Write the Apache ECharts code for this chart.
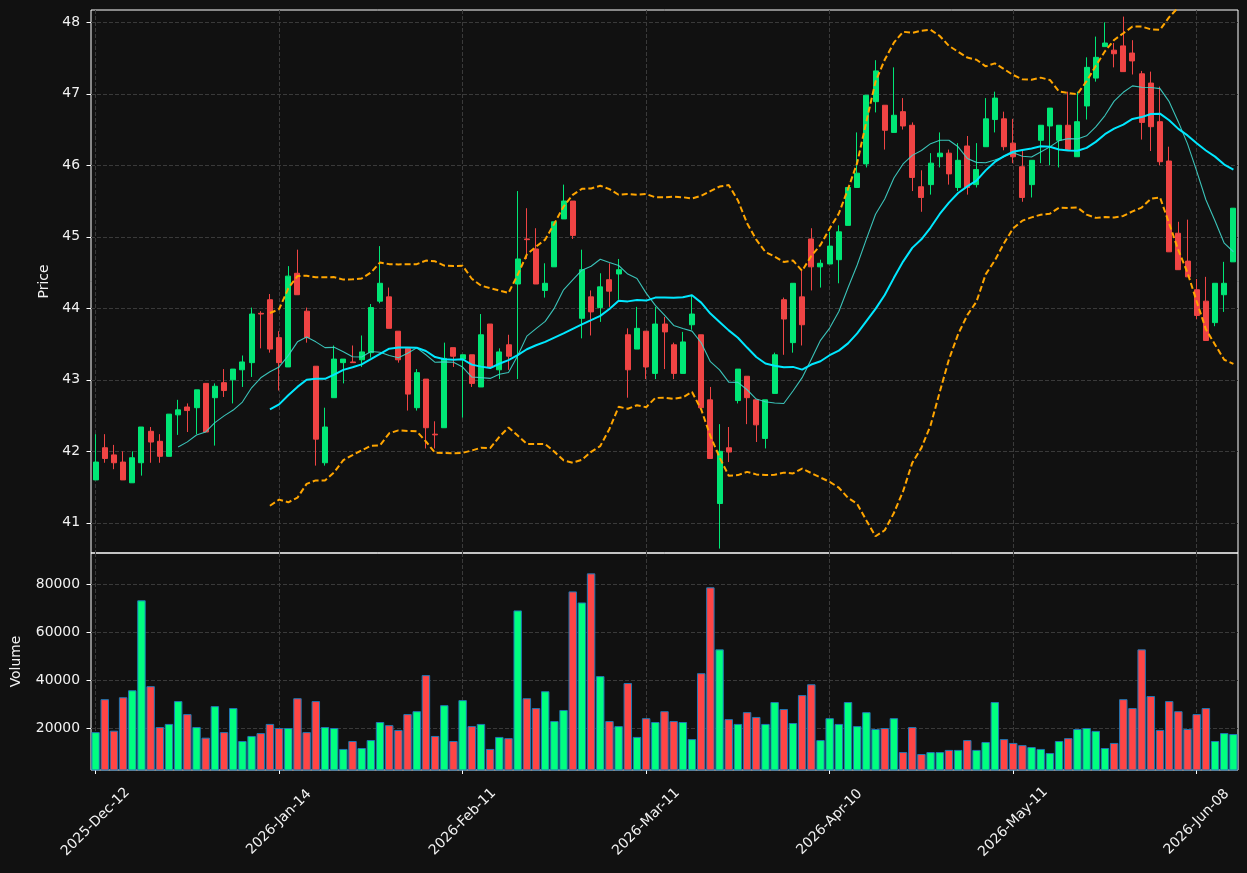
<!DOCTYPE html>
<html>
<head>
<meta charset="utf-8">
<script src="https://cdn.jsdelivr.net/npm/echarts@6.0.0/dist/echarts.min.js"></script>
<style>
  html, body { margin: 0; padding: 0; background: #111111; }
  #chart { width: 1247px; height: 873px; }
</style>
</head>
<body>
<div id="chart"></div>
<script>
// ── data (125 daily bars) ─────────────────────────────────────────────────
const tickIdx = [0, 20, 40, 60, 80, 100, 120];
const tickLabels = ['2025-Dec-12', '2026-Jan-14', '2026-Feb-11', '2026-Mar-11', '2026-Apr-10', '2026-May-11', '2026-Jun-08'];

const opens = [
  41.60, 42.05, 41.95, 41.85, 41.56, 41.84, 42.28, 42.14, 41.93, 42.51,
  42.62, 42.61, 42.95, 42.75, 42.96, 43.00, 43.14, 43.24, 43.93, 44.12,
  43.59, 43.18, 44.49, 43.96, 43.19, 41.84, 42.75, 43.24, 43.25, 43.28,
  43.38, 44.10, 44.16, 43.68, 43.44, 42.61, 43.01, 42.24, 42.33, 43.45,
  43.29, 43.35, 42.90, 43.78, 43.14, 43.49, 44.34, 44.97, 44.83, 44.25,
  44.58, 45.25, 45.50, 43.86, 44.16, 44.01, 44.40, 44.48, 43.63, 43.43,
  43.68, 43.09, 43.78, 43.49, 43.09, 43.77, 43.63, 42.72, 41.27, 42.05,
  42.71, 43.05, 42.72, 42.18, 42.81, 44.12, 43.52, 44.16, 44.97, 44.58,
  44.62, 44.68, 45.16, 45.69, 46.02, 46.89, 46.84, 46.46, 46.75, 46.56,
  45.70, 45.73, 46.12, 46.17, 45.69, 46.27, 45.73, 46.26, 46.64, 46.65,
  46.31, 45.98, 45.73, 46.35, 46.55, 46.35, 46.56, 46.12, 46.83, 47.22,
  47.66, 47.61, 47.67, 47.57, 47.28, 47.15, 46.61, 46.06, 45.05, 44.66,
  44.26, 44.10, 43.80, 44.19, 44.65
];
const closes = [
  41.85, 41.90, 41.84, 41.60, 41.91, 42.34, 42.13, 41.93, 42.52, 42.58,
  42.57, 42.86, 42.27, 42.91, 42.85, 43.15, 43.25, 43.92, 43.92, 43.43,
  43.24, 44.45, 44.19, 43.59, 42.17, 42.34, 43.29, 43.29, 43.24, 43.39,
  44.01, 44.35, 43.72, 43.28, 42.80, 43.10, 42.33, 42.23, 43.30, 43.33,
  43.35, 42.95, 43.63, 43.18, 43.39, 43.33, 44.69, 44.96, 44.34, 44.35,
  45.21, 45.50, 45.02, 44.54, 43.95, 44.30, 44.24, 44.54, 43.14, 43.72,
  43.18, 43.78, 43.67, 43.09, 43.53, 43.92, 42.61, 41.90, 42.00, 41.99,
  43.15, 42.75, 42.37, 42.72, 43.35, 43.85, 44.35, 43.77, 44.58, 44.63,
  44.87, 45.07, 45.69, 45.89, 46.98, 47.32, 46.49, 46.70, 46.55, 45.83,
  45.55, 46.03, 46.17, 45.88, 46.07, 45.69, 45.94, 46.65, 46.94, 46.26,
  46.12, 45.55, 46.07, 46.56, 46.80, 46.56, 46.22, 46.61, 47.37, 47.51,
  47.71, 47.56, 47.31, 47.46, 46.60, 46.54, 46.05, 44.79, 44.54, 44.44,
  43.90, 43.55, 44.35, 44.35, 45.40
];
const lows = [
  41.60, 41.84, 41.75, 41.60, 41.56, 41.66, 41.84, 41.84, 41.93, 42.23,
  42.27, 42.24, 42.27, 42.08, 42.76, 42.67, 42.90, 43.04, 43.44, 43.38,
  42.85, 43.18, 44.19, 43.52, 41.80, 41.80, 42.75, 42.95, 43.24, 43.18,
  43.31, 44.07, 43.72, 43.24, 42.57, 42.57, 42.04, 42.04, 42.33, 43.18,
  42.47, 42.90, 42.90, 43.18, 43.01, 43.14, 43.01, 44.69, 44.34, 44.15,
  44.58, 45.25, 44.97, 43.58, 43.62, 43.81, 44.02, 44.12, 42.75, 43.43,
  43.01, 43.01, 43.15, 43.01, 43.09, 43.70, 42.61, 41.90, 40.64, 41.85,
  42.67, 42.38, 42.13, 42.04, 42.81, 43.35, 43.38, 43.48, 44.25, 44.29,
  44.62, 44.35, 45.16, 45.69, 45.97, 46.74, 46.22, 46.46, 46.50, 45.64,
  45.35, 45.59, 45.97, 45.73, 45.64, 45.59, 45.69, 46.26, 46.46, 46.21,
  46.03, 45.49, 45.55, 46.03, 46.00, 45.97, 46.22, 46.12, 46.64, 47.17,
  47.66, 47.37, 47.31, 47.27, 46.36, 46.20, 46.00, 44.79, 44.54, 44.44,
  43.85, 43.55, 43.75, 43.95, 44.65
];
const highs = [
  42.24, 42.24, 42.09, 42.00, 42.00, 42.34, 42.34, 42.24, 42.52, 42.72,
  42.67, 42.86, 42.95, 42.95, 43.15, 43.15, 43.34, 44.01, 43.96, 44.20,
  43.68, 44.59, 44.82, 44.01, 43.19, 42.61, 43.48, 43.29, 43.48, 43.62,
  44.06, 44.87, 44.29, 43.68, 43.44, 43.15, 43.01, 42.42, 43.52, 43.45,
  43.35, 43.35, 43.92, 43.78, 43.44, 43.63, 45.64, 45.40, 45.12, 44.63,
  45.21, 45.73, 45.50, 44.82, 44.25, 44.49, 44.63, 44.69, 43.72, 44.02,
  43.68, 44.02, 43.88, 43.52, 43.67, 44.19, 43.63, 42.90, 42.38, 42.34,
  43.15, 43.05, 42.72, 42.72, 43.38, 44.15, 44.35, 44.54, 45.12, 44.68,
  45.07, 45.16, 45.69, 46.46, 46.98, 47.47, 46.84, 47.37, 46.94, 46.60,
  45.93, 46.17, 46.46, 46.22, 46.31, 46.41, 46.31, 46.94, 47.03, 46.75,
  46.65, 46.21, 46.07, 46.56, 46.80, 46.56, 47.03, 47.03, 47.51, 47.80,
  48.00, 47.71, 48.08, 47.75, 47.32, 47.31, 47.10, 46.26, 45.21, 45.24,
  44.41, 44.44, 44.35, 44.65, 45.40
];
const volumes = [
  18600, 32300, 19200, 33100, 36000, 73400, 37700, 20700, 22000, 31500,
  26100, 20700, 16300, 29400, 18600, 28600, 14900, 17000, 18200, 22000,
  20300, 20300, 32700, 18600, 31500, 20700, 20300, 11600, 14900, 12000,
  15300, 22800, 21500, 19500, 26100, 27300, 42300, 17000, 29800, 14900,
  31900, 21100, 22000, 11600, 16600, 16100, 69200, 32700, 28600, 35600,
  23200, 27800, 77100, 72500, 84600, 41900, 23200, 21100, 39000, 16600,
  24400, 22800, 27300, 23200, 22800, 15700, 43100, 78800, 53000, 24000,
  22000, 26900, 24900, 22000, 31100, 28200, 22400, 34000, 38500, 15300,
  24400, 22000, 31100, 21100, 26900, 19900, 20300, 24400, 10300, 20700,
  9500, 10300, 10300, 11200, 11200, 15300, 11200, 14500, 31100, 15700,
  14100, 13200, 12400, 11600, 9900, 14900, 16100, 19900, 20300, 19100,
  12000, 14100, 32300, 28600, 53000, 33600, 19500, 31500, 27300, 19900,
  26100, 28600, 14900, 18200, 17800
];

// ── indicators derived from the closes ──────────────────────────────────────
function sma(vals, n) {
  return vals.map((_, i) => {
    if (i < n - 1) return null;
    let s = 0;
    for (let k = i - n + 1; k <= i; k++) s += vals[k];
    return +(s / n).toFixed(4);
  });
}
function band(vals, n, mult) {
  const mid = sma(vals, n);
  const up = [], lo = [];
  vals.forEach((_, i) => {
    if (mid[i] == null) { up.push(null); lo.push(null); return; }
    let v = 0;
    for (let k = i - n + 1; k <= i; k++) v += (vals[k] - mid[i]) ** 2;
    const sd = Math.sqrt(v / n);
    up.push(+(mid[i] + mult * sd).toFixed(4));
    lo.push(+(mid[i] - mult * sd).toFixed(4));
  });
  return { up, lo };
}

const ma10 = sma(closes, 10);
const ma20 = sma(closes, 20);
const bb = band(closes, 20, 2);

// ── chart ───────────────────────────────────────────────────────────────────
const UP = '#00e676', DOWN = '#ef4444';
const VOL_UP = '#00ff80', VOL_DOWN = '#ff4545';
const TXT = '#f2f2f2';
const FONT = 'DejaVu Sans';
const GRIDLINE = { color: '#3a3a3a', width: 1, type: [4, 2] };

const idx = opens.map((_, i) => i);
const candles = opens.map((o, i) => [o, closes[i], lows[i], highs[i]]);
const isTick = i => tickIdx.indexOf(i) >= 0;

const chart = echarts.init(document.getElementById('chart'), null, { renderer: 'canvas' });

chart.setOption({
  backgroundColor: '#111111',
  animation: false,
  textStyle: { fontFamily: FONT },
  grid: [
    { left: 91, top: 10, width: 1147, height: 543, show: true, borderColor: '#ffffff', borderWidth: 1, backgroundColor: 'transparent' },
    { left: 91, top: 553, width: 1147, height: 217, show: true, borderColor: '#ffffff', borderWidth: 1, backgroundColor: 'transparent' }
  ],
  xAxis: [
    {
      type: 'category', gridIndex: 0, data: idx, boundaryGap: true,
      axisLine: { show: false }, axisTick: { show: false }, axisLabel: { show: false },
      splitLine: { show: true, interval: i => isTick(i), alignWithLabel: true, lineStyle: GRIDLINE }
    },
    {
      type: 'category', gridIndex: 1, data: idx, boundaryGap: true,
      axisLine: { show: false },
      axisTick: { show: true, alignWithLabel: true, interval: i => isTick(i), length: 4, lineStyle: { color: '#ffffff' } },
      axisLabel: {
        interval: i => isTick(i), rotate: 45, align: 'center', verticalAlign: 'middle', margin: 52,
        color: TXT, fontSize: 13.9, fontFamily: FONT,
        formatter: v => tickLabels[tickIdx.indexOf(+v)]
      },
      splitLine: { show: true, interval: i => isTick(i), alignWithLabel: true, lineStyle: GRIDLINE }
    }
  ],
  yAxis: [
    {
      type: 'value', gridIndex: 0, min: 40.578, max: 48.172, splitNumber: 8, scale: true,
      name: 'Price', nameLocation: 'middle', nameGap: 36, nameRotate: 90,
      nameTextStyle: { color: TXT, fontSize: 13.9, fontFamily: FONT },
      axisLine: { show: false },
      axisTick: { show: true, length: 4.5, lineStyle: { color: '#ffffff' }, customValues: [41, 42, 43, 44, 45, 46, 47, 48] },
      axisLabel: { color: TXT, fontSize: 13.9, fontFamily: FONT, margin: 11, customValues: [41, 42, 43, 44, 45, 46, 47, 48] },
      splitLine: { show: true, lineStyle: GRIDLINE }
    },
    {
      type: 'value', gridIndex: 1, min: 2850, max: 93060, splitNumber: 5,
      name: 'Volume', nameLocation: 'middle', nameGap: 68, nameRotate: 90,
      nameTextStyle: { color: TXT, fontSize: 13.9, fontFamily: FONT },
      axisLine: { show: false },
      axisTick: { show: true, length: 4.5, lineStyle: { color: '#ffffff' }, customValues: [20000, 40000, 60000, 80000] },
      axisLabel: { color: TXT, fontSize: 13.9, fontFamily: FONT, margin: 11, customValues: [20000, 40000, 60000, 80000], formatter: v => String(v) },
      splitLine: { show: true, lineStyle: GRIDLINE }
    }
  ],
  series: [
    {
      name: 'candles', type: 'candlestick', xAxisIndex: 0, yAxisIndex: 0,
      data: candles, barWidth: 5.5, z: 2,
      itemStyle: { color: UP, color0: DOWN, borderColor: UP, borderColor0: DOWN, borderWidth: 1 }
    },
    {
      name: 'MA10', type: 'line', xAxisIndex: 0, yAxisIndex: 0, data: ma10, showSymbol: false, z: 4,
      lineStyle: { color: '#3fd6cb', width: 1.1, opacity: 0.9 }
    },
    {
      name: 'MA20', type: 'line', xAxisIndex: 0, yAxisIndex: 0, data: ma20, showSymbol: false, z: 4,
      lineStyle: { color: '#00e8ff', width: 2 }
    },
    {
      name: 'BB upper', type: 'line', xAxisIndex: 0, yAxisIndex: 0, data: bb.up, showSymbol: false, z: 4,
      lineStyle: { color: '#ffa500', width: 2, type: [6, 3] }
    },
    {
      name: 'BB lower', type: 'line', xAxisIndex: 0, yAxisIndex: 0, data: bb.lo, showSymbol: false, z: 4,
      lineStyle: { color: '#ffa500', width: 2, type: [6, 3] }
    },
    {
      name: 'Volume', type: 'bar', xAxisIndex: 1, yAxisIndex: 1, data: volumes,
      barCategoryGap: '8%',
      itemStyle: {
        color: p => (closes[p.dataIndex] >= opens[p.dataIndex] ? VOL_UP : VOL_DOWN),
        borderColor: '#1f77b4', borderWidth: 1
      }
    }
  ]
});
</script>
</body>
</html>
